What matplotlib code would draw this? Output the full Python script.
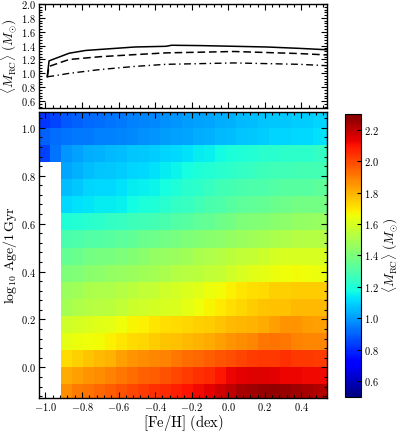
import numpy as np
import matplotlib
matplotlib.use("Agg")
import matplotlib.pyplot as plt
from matplotlib.ticker import MultipleLocator

plt.rcParams.update({
    "font.family": "serif",
    "font.serif": ["cmr10"],
    "mathtext.fontset": "cm",
    "axes.formatter.use_mathtext": True,
    "axes.unicode_minus": True,
})

nan = np.nan

# ---------------- data ----------------
# [Fe/H] bin centres of the mass map (dex)
feh_centres = [-1.005, -0.945, -0.885, -0.825, -0.765, -0.705, -0.645, -0.585,
               -0.525, -0.465, -0.405, -0.345, -0.285, -0.225, -0.165, -0.105,
               -0.045, 0.015, 0.075, 0.135, 0.195, 0.255, 0.315, 0.375,
               0.435, 0.495, 0.555]
# log10 age bin index k spans [(k-2)/14, (k-1)/14]; rows listed from youngest to oldest
mean_mass = [
    [nan, nan, 1.87, 1.90, 1.92, 1.94, 1.96, 1.98, 2.00, 2.02, 2.04, 2.06, 2.08, 2.10, 2.12, 2.14, 2.17, 2.20, 2.23, 2.25, 2.26, 2.27, 2.26, 2.25, 2.23, 2.22, 2.21],
    [nan, nan, 1.81, 1.83, 1.85, 1.87, 1.89, 1.91, 1.93, 1.95, 1.96, 1.98, 2.00, 2.02, 2.04, 2.06, 2.09, 2.13, 2.14, 2.15, 2.15, 2.14, 2.13, 2.13, 2.12, 2.12, 2.12],
    [nan, nan, 1.72, 1.74, 1.76, 1.78, 1.80, 1.83, 1.85, 1.87, 1.88, 1.89, 1.91, 1.93, 1.94, 1.96, 1.97, 1.99, 2.01, 2.02, 2.03, 2.03, 2.04, 2.03, 2.03, 2.02, 2.02],
    [nan, nan, 1.63, 1.64, 1.65, 1.66, 1.68, 1.70, 1.72, 1.73, 1.75, 1.76, 1.77, 1.78, 1.80, 1.81, 1.83, 1.85, 1.87, 1.88, 1.91, 1.92, 1.91, 1.89, 1.88, 1.88, 1.88],
    [nan, nan, 1.58, 1.59, 1.61, 1.62, 1.63, 1.65, 1.67, 1.68, 1.70, 1.71, 1.72, 1.73, 1.74, 1.75, 1.76, 1.78, 1.79, 1.80, 1.81, 1.83, 1.85, 1.85, 1.84, 1.83, 1.83],
    [nan, nan, 1.49, 1.51, 1.52, 1.53, 1.54, 1.55, 1.57, 1.58, 1.59, 1.60, 1.61, 1.63, 1.65, 1.67, 1.69, 1.71, 1.73, 1.75, 1.76, 1.77, 1.77, 1.78, 1.78, 1.78, 1.78],
    [nan, nan, 1.47, 1.48, 1.50, 1.51, 1.51, 1.52, 1.54, 1.55, 1.56, 1.58, 1.59, 1.61, 1.62, 1.64, 1.66, 1.68, 1.70, 1.71, 1.72, 1.74, 1.74, 1.75, 1.75, 1.75, 1.75],
    [nan, nan, 1.40, 1.41, 1.43, 1.44, 1.45, 1.46, 1.47, 1.48, 1.49, 1.50, 1.52, 1.53, 1.54, 1.55, 1.56, 1.58, 1.60, 1.62, 1.63, 1.64, 1.65, 1.66, 1.65, 1.64, 1.64],
    [nan, nan, 1.35, 1.36, 1.38, 1.39, 1.39, 1.40, 1.42, 1.43, 1.45, 1.46, 1.47, 1.48, 1.50, 1.51, 1.52, 1.54, 1.55, 1.56, 1.57, 1.59, 1.60, 1.60, 1.60, 1.60, 1.60],
    [nan, nan, 1.29, 1.30, 1.31, 1.31, 1.32, 1.33, 1.34, 1.36, 1.37, 1.38, 1.39, 1.40, 1.42, 1.43, 1.44, 1.45, 1.47, 1.48, 1.49, 1.50, 1.51, 1.52, 1.52, 1.52, 1.52],
    [nan, nan, 1.20, 1.21, 1.22, 1.23, 1.24, 1.25, 1.26, 1.27, 1.28, 1.29, 1.31, 1.32, 1.34, 1.35, 1.37, 1.38, 1.40, 1.41, 1.42, 1.43, 1.44, 1.45, 1.45, 1.46, 1.46],
    [nan, nan, 1.11, 1.12, 1.13, 1.14, 1.14, 1.15, 1.17, 1.19, 1.20, 1.22, 1.24, 1.25, 1.27, 1.29, 1.30, 1.32, 1.33, 1.34, 1.35, 1.36, 1.37, 1.38, 1.38, 1.38, 1.38],
    [nan, nan, 1.06, 1.08, 1.10, 1.11, 1.11, 1.12, 1.14, 1.15, 1.16, 1.18, 1.20, 1.22, 1.23, 1.25, 1.27, 1.28, 1.29, 1.30, 1.30, 1.31, 1.32, 1.32, 1.32, 1.33, 1.33],
    [nan, nan, 1.02, 1.04, 1.06, 1.07, 1.08, 1.09, 1.10, 1.11, 1.12, 1.14, 1.16, 1.18, 1.20, 1.21, 1.22, 1.23, 1.24, 1.25, 1.26, 1.27, 1.27, 1.28, 1.28, 1.28, 1.28],
    [0.84, 0.93, 0.99, 1.01, 1.03, 1.04, 1.05, 1.06, 1.07, 1.08, 1.09, 1.10, 1.11, 1.12, 1.14, 1.15, 1.17, 1.19, 1.20, 1.21, 1.22, 1.22, 1.23, 1.23, 1.23, 1.24, 1.24],
    [0.90, 0.92, 0.93, 0.94, 0.94, 0.95, 0.95, 0.96, 0.97, 0.98, 0.99, 1.00, 1.01, 1.02, 1.03, 1.04, 1.05, 1.06, 1.07, 1.08, 1.09, 1.10, 1.10, 1.11, 1.11, 1.12, 1.12],
    [0.82, 0.85, 0.88, 0.90, 0.91, 0.92, 0.93, 0.94, 0.95, 0.96, 0.97, 0.98, 0.99, 1.00, 1.01, 1.02, 1.03, 1.04, 1.05, 1.06, 1.07, 1.08, 1.08, 1.09, 1.09, 1.10, 1.10],
]

# upper panel: mean RC mass vs [Fe/H]
solid_feh = [-0.99, -0.98, -0.87, -0.78, -0.70, -0.51, -0.34, -0.31, -0.15, 0.03, 0.21, 0.39, 0.54]
solid_mass = [0.95, 1.18, 1.29, 1.33, 1.345, 1.38, 1.39, 1.405, 1.40, 1.39, 1.38, 1.36, 1.34]
dashed_feh = [-0.99, -0.98, -0.87, -0.70, -0.51, -0.34, -0.15, 0.03, 0.21, 0.39, 0.54]
dashed_mass = [0.95, 1.10, 1.20, 1.24, 1.27, 1.295, 1.305, 1.315, 1.30, 1.285, 1.265]
dashdot_feh = [-0.99, -0.95, -0.87, -0.70, -0.51, -0.34, -0.15, 0.03, 0.21, 0.39, 0.54]
dashdot_mass = [0.95, 0.965, 1.00, 1.055, 1.10, 1.13, 1.14, 1.15, 1.14, 1.13, 1.11]

cbar_ticks = [0.6, 0.8, 1.0, 1.2, 1.4, 1.6, 1.8, 2.0, 2.2]

# ---------------- figure ----------------
W, H = 399, 433
fig = plt.figure(figsize=(W / 100, H / 100), dpi=100)
ax1 = fig.add_axes([39 / W, 1 - 108 / H, 288 / W, 104 / H])
ax2 = fig.add_axes([39 / W, 1 - 398 / H, 288 / W, 286.5 / H])
cax = fig.add_axes([345 / W, 1 - 396.7 / H, 15.7 / W, 282.7 / H])

xlim = (-1.035, 0.54)

# upper panel
ax1.plot(solid_feh, solid_mass, color="k", lw=1.1, ls="-")
ax1.plot(dashed_feh, dashed_mass, color="k", lw=1.1, ls=(0, (5, 2.5)))
ax1.plot(dashdot_feh, dashdot_mass, color="k", lw=1.0, ls=(0, (5, 2.5, 1, 2.5)))
ax1.set_xlim(*xlim)
ax1.set_ylim(0.5, 2.0)
ax1.set_xticklabels([])
ax1.yaxis.set_major_locator(MultipleLocator(0.2))
ax1.set_ylabel(r"$\langle M_{\rm RC}\rangle\ (M_{\odot})$", fontsize=9.5, labelpad=1)

# heat map
fc = np.array(feh_centres)
dx = 0.06
xedges = np.concatenate([fc - dx / 2, [fc[-1] + dx / 2]])
nrows = len(mean_mass)
yedges = (np.arange(nrows + 1) - 2) / 14.0
Z = np.ma.masked_invalid(np.array(mean_mass))
mesh = ax2.pcolormesh(xedges, yedges, Z, cmap="jet", vmin=0.5, vmax=2.3,
                      shading="flat", antialiased=False, linewidth=0)
ax2.set_xlim(*xlim)
ax2.set_ylim(-0.128, 1.068)
ax2.set_xlabel(r"$[{\rm Fe/H}]\ ({\rm dex})$", fontsize=10.5, labelpad=0)
ax2.set_ylabel(r"$\log_{10}\,{\rm Age}/1\,{\rm Gyr}$", fontsize=10, labelpad=1)
ax2.yaxis.set_major_locator(MultipleLocator(0.2))

for ax in (ax1, ax2):
    ax.xaxis.set_major_locator(MultipleLocator(0.2))
    ax.xaxis.set_minor_locator(MultipleLocator(0.04))
    ax.yaxis.set_minor_locator(MultipleLocator(0.04))
    ax.tick_params(which="both", direction="in", top=True, right=True, labelsize=7.5,
                   width=0.8)
    ax.tick_params(which="major", length=4, pad=2.5)
    ax.tick_params(which="minor", length=2)
    for s in ax.spines.values():
        s.set_linewidth(1.0)

cb = fig.colorbar(mesh, cax=cax, ticks=cbar_ticks)
cb.outline.set_linewidth(0.8)
cax.tick_params(direction="in", length=3, labelsize=7.5, width=0.8, pad=2.5)
cb.set_label(r"$\langle M_{\rm RC}\rangle\ (M_{\odot})$", fontsize=9.5, labelpad=0.5)

fig.savefig("out.png", dpi=100)
